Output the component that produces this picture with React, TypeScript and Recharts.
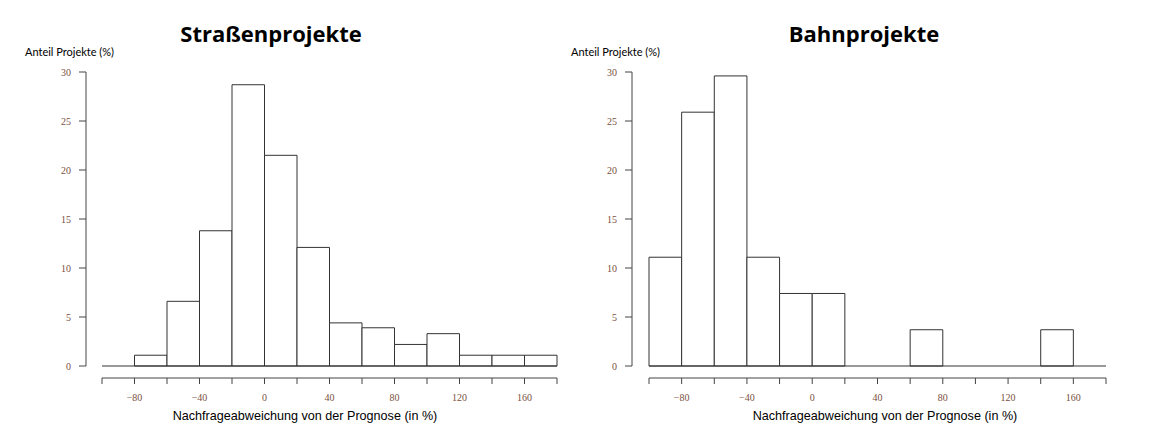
import React from 'react';
import { ComposedChart, Line, XAxis, YAxis, ReferenceArea, ReferenceLine } from 'recharts';

// histogram bins: lower edges, width 20 (%-points)
const binStarts = [-100, -80, -60, -40, -20, 0, 20, 40, 60, 80, 100, 120, 140, 160];
const binWidth = 20;
const strassenShare = [0, 1.1, 6.6, 13.8, 28.7, 21.5, 12.1, 4.4, 3.9, 2.2, 3.3, 1.1, 1.1, 1.1];
const bahnShare = [11.1, 25.9, 29.6, 11.1, 7.4, 7.4, 0, 0, 3.7, 0, 0, 0, 3.7, 0];
const xTicks = [-100, -80, -60, -40, -20, 0, 20, 40, 60, 80, 100, 120, 140, 160, 180];
const xLabels = [-80, -40, 0, 40, 80, 120, 160];
const yTicks = [0, 5, 10, 15, 20, 25, 30];

const AXIS = '#444';
const BAR = '#333';
const TICK_TEXT = '#7a5040';
const serif = '"Liberation Serif", "DejaVu Serif", serif';

const fmtX = (v: number) => (xLabels.includes(v) ? (v < 0 ? `\u2212${-v}` : `${v}`) : '');

interface HistProps { title: string; share: number[]; left: number; width: number; padLeft: number; titleX: number; xTitleX: number; }

function Histogram({ title, share, left, width, padLeft, titleX, xTitleX }: HistProps) {
  const rows = binStarts.map((s, i) => ({ start: s, end: s + binWidth, share: share[i] }));
  return (
    <>
      <div style={{ position: 'absolute', left: titleX, top: 20, transform: 'translateX(-50%)', fontFamily: '"Open Sans", sans-serif', fontWeight: 700, fontSize: 22, lineHeight: '26px', color: '#000', whiteSpace: 'nowrap' }}>{title}</div>
      <div style={{ position: 'absolute', left: left + 25, top: 46, fontFamily: 'Lato, sans-serif', fontSize: 11, lineHeight: '12px', color: '#000', whiteSpace: 'nowrap' }}>Anteil Projekte (%)</div>
      <div style={{ position: 'absolute', left: xTitleX, top: 409, transform: 'translateX(-50%)', fontFamily: '"Liberation Sans", Arial, sans-serif', fontSize: 12.6, lineHeight: '14px', color: '#000', whiteSpace: 'nowrap' }}>Nachfrageabweichung von der Prognose (in %)</div>
      <div style={{ position: 'absolute', left, top: 0 }}>
        <ComposedChart width={width} height={430} data={rows} margin={{ top: 72, right: 18, left: 0, bottom: 12 }}>
          <XAxis type="number" dataKey="start" domain={[-100, 180]} ticks={xTicks} interval={0} padding={{ left: padLeft, right: 0 }} height={40}
            tickSize={6} tickMargin={10} tickFormatter={fmtX}
            axisLine={{ stroke: AXIS, strokeDasharray: `0 ${padLeft} 3000` }} tickLine={{ stroke: AXIS }}
            tick={{ fontSize: 10, fill: TICK_TEXT, fontFamily: serif }} />
          <YAxis type="number" domain={[0, 30]} ticks={yTicks} interval={0} width={86} padding={{ top: 0, bottom: 12 }}
            tickSize={7} tickMargin={8}
            axisLine={{ stroke: AXIS, strokeDasharray: '294 3000' }} tickLine={{ stroke: AXIS }}
            tick={{ fontSize: 10, fill: TICK_TEXT, fontFamily: serif }} />
          <ReferenceLine segment={[{ x: -100, y: 0 }, { x: 180, y: 0 }]} stroke={BAR} strokeWidth={1} ifOverflow="visible" />
          {rows.map((r) => (
            <ReferenceArea key={r.start} x1={r.start} x2={r.end} y1={0} y2={r.share} fill="#fff" fillOpacity={1} stroke={BAR} strokeWidth={1} strokeOpacity={1} ifOverflow="visible" />
          ))}
          <Line dataKey="share" stroke="none" dot={false} activeDot={false} isAnimationActive={false} />
        </ComposedChart>
      </div>
    </>
  );
}

export default function App() {
  return (
    <div style={{ position: 'absolute', left: 0, top: 0, width: 1150, height: 430, background: '#fff', overflow: 'hidden' }}>
      <Histogram title="Straßenprojekte" share={strassenShare} left={0} width={575} padLeft={16} titleX={271} xTitleX={305} />
      <Histogram title="Bahnprojekte" share={bahnShare} left={546} width={578} padLeft={17} titleX={864} xTitleX={885} />
    </div>
  );
}
